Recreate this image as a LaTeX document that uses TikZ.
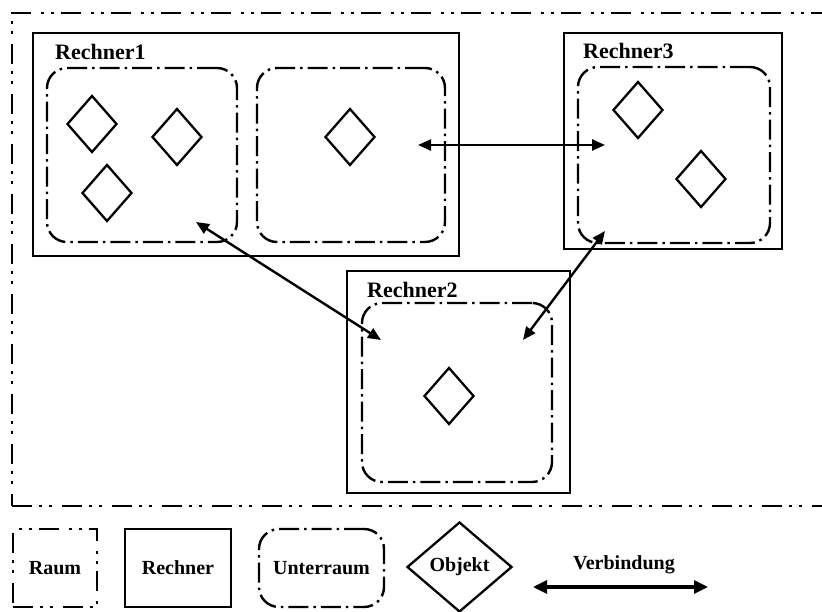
\documentclass[tikz,border=0pt]{standalone}
\usepackage{fontspec}
\setmainfont{Liberation Serif}
\usetikzlibrary{shapes.geometric,arrows.meta}
\begin{document}
\begin{tikzpicture}[x=1pt,y=-1pt,
  raum/.style={draw, rectangle, line width=2.8pt, inner sep=0pt,
    dash pattern=on 20pt off 7pt on 3pt off 7pt on 3pt off 10pt},
  rechner/.style={draw, rectangle, line width=2.4pt, inner sep=0pt},
  unterraum/.style={draw, rectangle, line width=2.4pt, rounded corners=20pt, inner sep=0pt,
    dash pattern=on 20pt off 5pt on 2.5pt off 5pt},
  objekt/.style={draw, diamond, line width=2.3pt, inner sep=0pt,
    minimum width=50pt, minimum height=57pt},
  verbindung/.style={line width=2.4pt,
    {Triangle[length=13pt,width=11pt]}-{Triangle[length=13pt,width=11pt]}},
  titel/.style={font=\fontsize{22}{24}\selectfont\bfseries, inner sep=0pt, anchor=base west},
  legende/.style={font=\fontsize{20}{22}\selectfont\bfseries, inner sep=0pt},
]
\useasboundingbox (0,0) rectangle (822,612);

% the whole space
\node[raum, minimum width=838pt, minimum height=493pt] (raum) at (431,259.5) {};

% computer 1 with two subspaces
\node[rechner, minimum width=426pt, minimum height=223pt] (r1) at (246,144.5) {};
\node[titel] (t1) at (55,60) {Rechner1};
\node[unterraum, minimum width=190pt, minimum height=174pt] (u1a) at (142,155) {};
\node[unterraum, minimum width=188pt, minimum height=174pt] (u1b) at (351,155) {};
\node[objekt] (o1) at (92,124) {};
\node[objekt] (o2) at (177,137) {};
\node[objekt] (o3) at (107,193) {};
\node[objekt] (o4) at (350,137) {};

% computer 3
\node[rechner, minimum width=218pt, minimum height=216pt] (r3) at (673,141) {};
\node[titel] (t3) at (583,59) {Rechner3};
\node[unterraum, minimum width=192pt, minimum height=176pt] (u3) at (674,155) {};
\node[objekt] (o5) at (638,110) {};
\node[objekt] (o6) at (701,179) {};

% computer 2
\node[rechner, minimum width=223pt, minimum height=222pt] (r2) at (458.5,382) {};
\node[titel] (t2) at (367,298) {Rechner2};
\node[unterraum, minimum width=190pt, minimum height=179pt] (u2) at (457,392.5) {};
\node[objekt] (o7) at (449,396) {};

% connection end points
\coordinate (v1a) at (418,145);
\coordinate (v1b) at (605,145);
\coordinate (v2a) at (196,222);
\coordinate (v2b) at (381,340);
\coordinate (v3a) at (605,231);
\coordinate (v3b) at (523,340);
\draw[verbindung] (v1a) -- (v1b);
\draw[verbindung] (v2a) -- (v2b);
\draw[verbindung] (v3a) -- (v3b);

% legend
\node[raum, line width=2.6pt, minimum width=84pt, minimum height=78pt] (lraum) at (55,568) {};
\node[legende] at (lraum.center) {Raum};
\node[rechner, minimum width=106pt, minimum height=78pt] (lrechner) at (178,568) {};
\node[legende] at (lrechner.center) {Rechner};
\node[unterraum, minimum width=125pt, minimum height=78pt] (lunter) at (321.5,568) {};
\node[legende] at (lunter.center) {Unterraum};
\node[objekt, minimum width=105pt, minimum height=90pt] (lobj) at (459.5,567) {};
\node[legende] at (lobj.center) {Objekt};
\coordinate (lva) at (533,587);
\coordinate (lvb) at (708,587);
\draw[line width=3.2pt, {Triangle[length=14pt,width=13pt]}-{Triangle[length=14pt,width=13pt]}] (lva) -- (lvb);
\node[legende] (lvt) at (624,565) {Verbindung};
\end{tikzpicture}
\end{document}
